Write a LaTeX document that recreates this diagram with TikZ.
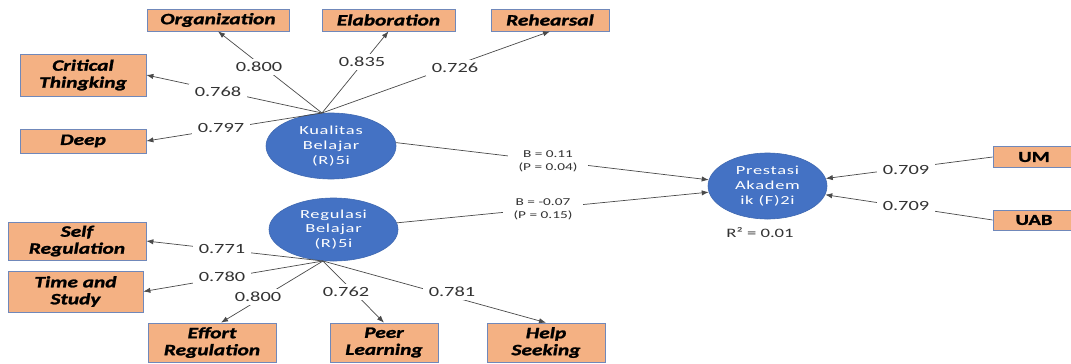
\documentclass[tikz,border=0pt]{standalone}
\usepackage{fontspec}
\usetikzlibrary{arrows.meta,shapes.geometric,calc}
\newfontfamily\lblfont[FakeStretch=1.45]{Carlito}
\newfontfamily\boxfont[FakeStretch=1.35,BoldFeatures={FakeBold=1.5},BoldItalicFeatures={FakeBold=1.5}]{Carlito}
\newfontfamily\latfont[FakeStretch=1.5,LetterSpace=6]{Carlito}
\definecolor{boxfill}{HTML}{F4B183}
\definecolor{boxline}{HTML}{7088BA}
\definecolor{latfill}{HTML}{4472C4}
\definecolor{latline}{HTML}{3F68B0}
\definecolor{linegray}{HTML}{4A4A4A}
\definecolor{numgray}{HTML}{333333}

\begin{document}
\begin{tikzpicture}[x=0.03cm,y=-0.03cm,
  ind/.style={draw=boxline, line width=0.6pt, fill=boxfill, inner sep=0pt, align=center,
    font=\boxfont\fontsize{13.5}{14.5}\selectfont\bfseries\itshape},
  lat/.style={ellipse, draw=latline, line width=0.5pt, fill=latfill, inner sep=0pt, align=center,
    text=white, font=\latfont\fontsize{10.5}{12.5}\selectfont},
  path/.style={draw=linegray, line width=0.6pt, -{Latex[length=6pt,width=4.5pt]}},
  load/.style={fill=white, inner xsep=5pt, inner ysep=3pt, text=numgray, font=\lblfont\fontsize{12}{14}\selectfont},
  coef/.style={fill=white, inner xsep=9pt, inner ysep=1pt, align=center, text=numgray, font=\lblfont\fontsize{9}{11}\selectfont}]
\useasboundingbox[fill=white] (0,0) rectangle (1071,363);

\node[lat, minimum width=3.9cm, minimum height=1.98cm] (kual) at (331,146) {Kualitas\\Belajar\\(R)5i};
\node[lat, minimum width=3.87cm, minimum height=1.89cm] (reg) at (333.5,229.5) {Regulasi\\Belajar\\(R)5i};
\node[lat, minimum width=3.57cm, minimum height=1.98cm] (pres) at (767.5,186) {Prestasi\\Akadem\\ik (F)2i};
\coordinate (kualhub) at (322,113);
\coordinate (reghub) at (323,261);

\node[ind, minimum width=4.26cm, minimum height=0.66cm] (org) at (218,20) {Organization};
\node[ind, minimum width=3.99cm, minimum height=0.66cm] (elab) at (388.5,20) {Elaboration};
\node[ind, minimum width=3.54cm, minimum height=0.66cm] (reh) at (550,20) {Rehearsal};
\node[ind, minimum width=3.78cm, minimum height=1.26cm] (crit) at (83,75) {Critical\\Thingking};
\node[ind, minimum width=3.78cm, minimum height=0.72cm] (deep) at (83,141) {Deep};
\node[ind, minimum width=4.14cm, minimum height=1.14cm] (self) at (77,241) {Self\\Regulation};
\node[ind, minimum width=4.05cm, minimum height=1.23cm] (time) at (75.5,291.5) {Time and\\Study};
\node[ind, minimum width=3.84cm, minimum height=1.17cm] (effort) at (212,342.5) {Effort\\Regulation};
\node[ind, minimum width=3.24cm, minimum height=1.17cm] (peer) at (384,342.5) {Peer\\Learning};
\node[ind, minimum width=3.54cm, minimum height=1.17cm] (help) at (546,342.5) {Help\\Seeking};
\node[ind, minimum width=2.46cm, minimum height=0.63cm, font=\boxfont\fontsize{13}{14}\selectfont\bfseries] (um) at (1034,157) {UM};
\node[ind, minimum width=2.46cm, minimum height=0.6cm, font=\boxfont\fontsize{13}{14}\selectfont\bfseries] (uab) at (1034,220) {UAB};

\draw[path] (kualhub) -- (org.south);
\draw[path] (kualhub) -- (elab.south);
\draw[path] (kualhub) -- (reh.south);
\draw[path] (kualhub) -- (crit.east);
\draw[path] (kualhub) -- (deep.east);
\draw[path] (reghub) -- (self.east);
\draw[path] (reghub) -- (time.east);
\draw[path] (reghub) -- ($(effort.north)+(9,0)$);
\draw[path] (reghub) -- (peer.north);
\draw[path] (reghub) -- (help.north);
\draw[path] (kual.3) -- (pres.174);
\draw[path] (reg.6) -- (pres.186);
\draw[path] (um.west) -- (pres);
\draw[path] (uab.west) -- (pres);

\node[load] (l1) at (259,67) {0.800};
\node[load] (l2) at (362,62) {0.835};
\node[load] (l3) at (455,68) {0.726};
\node[load] (l4) at (218,92) {0.768};
\node[load] (l5) at (221,128) {0.797};
\node[load] (l6) at (222,249) {0.771};
\node[load] (l7) at (222,277) {0.780};
\node[load] (l8) at (258,297) {0.800};
\node[load] (l9) at (346,292) {0.762};
\node[load] (l10) at (452,292) {0.781};
\node[load] (l11) at (906,170) {0.709};
\node[load] (l12) at (906,206) {0.709};
\node[coef] (b1) at (548,161) {B = 0.11\\(P = 0.04)};
\node[coef] (b2) at (543,209.5) {B = -0.07\\(P = 0.15)};
\node[text=numgray, font=\lblfont\fontsize{11}{12}\selectfont] (r2) at (760,233) {R² = 0.01};
\end{tikzpicture}
\end{document}
